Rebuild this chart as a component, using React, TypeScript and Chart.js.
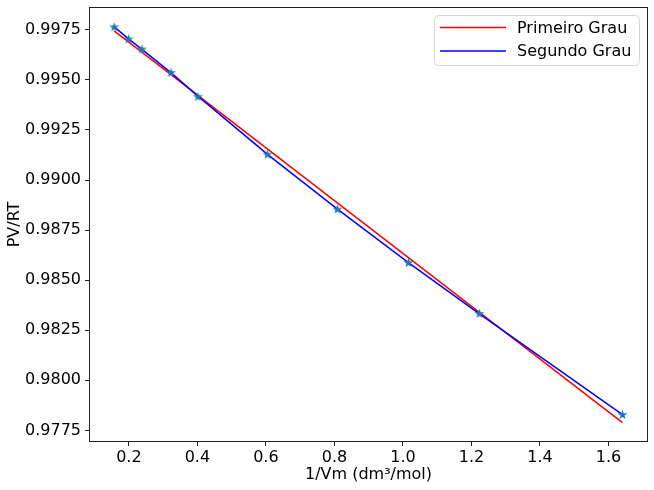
import React, { useEffect, useRef } from "react";
import { Chart, registerables } from "chart.js";

Chart.register(...registerables);

// Measured data (1/Vm vs PV/RT)
const xValues = [0.157, 0.199, 0.238, 0.3226, 0.4014, 0.6046, 0.8089, 1.0161, 1.2233, 1.641];
const pvrtValues = [0.99765, 0.99705, 0.99654, 0.99537, 0.99417, 0.99129, 0.98855, 0.98588, 0.98334, 0.97829];

// First degree fit (straight line endpoints)
const firstDegreeX = [0.157, 1.641];
const firstDegreeY = [0.99745, 0.97789];

// Second degree fit, evaluated at the data x values
const secondDegreeY = [0.99765, 0.99705, 0.99652, 0.99536, 0.99419, 0.99128, 0.98855, 0.98588, 0.98332, 0.97829];

const xTicks = [0.2, 0.4, 0.6, 0.8, 1.0, 1.2, 1.4, 1.6];
const yTicks = [0.9775, 0.98, 0.9825, 0.985, 0.9875, 0.99, 0.9925, 0.995, 0.9975];

const FONT = "'DejaVu Sans', sans-serif";

function makeStar(): HTMLCanvasElement {
  const c = document.createElement("canvas");
  const s = 11;
  c.width = s;
  c.height = s;
  const ctx = c.getContext("2d")!;
  const cx = s / 2;
  const cy = s / 2 + 0.4;
  const R = 5.2;
  const r = 2.1;
  ctx.beginPath();
  for (let i = 0; i < 10; i++) {
    const ang = -Math.PI / 2 + (i * Math.PI) / 5;
    const rad = i % 2 === 0 ? R : r;
    const px = cx + rad * Math.cos(ang);
    const py = cy + rad * Math.sin(ang);
    if (i === 0) ctx.moveTo(px, py);
    else ctx.lineTo(px, py);
  }
  ctx.closePath();
  ctx.fillStyle = "#1f77b4";
  ctx.fill();
  return c;
}

const framePlugin = {
  id: "frameAndLegend",
  afterDraw(chart: any) {
    const { ctx, chartArea } = chart;
    ctx.save();
    ctx.strokeStyle = "#222";
    ctx.lineWidth = 1;
    ctx.strokeRect(
      Math.round(chartArea.left) + 0.5,
      Math.round(chartArea.top) + 0.5,
      Math.round(chartArea.right - chartArea.left) - 1,
      Math.round(chartArea.bottom - chartArea.top) - 1
    );
    // legend
    const items = chart.data.datasets.filter((d: any) => d.label);
    const bx = 434.5, by = 15.5, bw = 205, bh = 50;
    const rr = 4;
    ctx.beginPath();
    ctx.moveTo(bx + rr, by);
    ctx.lineTo(bx + bw - rr, by);
    ctx.quadraticCurveTo(bx + bw, by, bx + bw, by + rr);
    ctx.lineTo(bx + bw, by + bh - rr);
    ctx.quadraticCurveTo(bx + bw, by + bh, bx + bw - rr, by + bh);
    ctx.lineTo(bx + rr, by + bh);
    ctx.quadraticCurveTo(bx, by + bh, bx, by + bh - rr);
    ctx.lineTo(bx, by + rr);
    ctx.quadraticCurveTo(bx, by, bx + rr, by);
    ctx.closePath();
    ctx.fillStyle = "rgba(255,255,255,0.8)";
    ctx.fill();
    ctx.strokeStyle = "#d6d6d6";
    ctx.stroke();
    ctx.font = `16px ${FONT}`;
    ctx.textBaseline = "middle";
    ctx.textAlign = "left";
    items.forEach((d: any, i: number) => {
      const y = 27.5 + i * 23.5;
      ctx.beginPath();
      ctx.strokeStyle = d.borderColor;
      ctx.lineWidth = 1.5;
      ctx.moveTo(440, y);
      ctx.lineTo(506, y);
      ctx.stroke();
      ctx.fillStyle = "#000";
      ctx.fillText(d.label, 517, y + 1);
    });
    ctx.restore();
  },
};

function zeroPad(axis: any) {
  axis.paddingTop = 0;
  axis.paddingBottom = 0;
  axis.paddingLeft = 0;
  axis.paddingRight = 0;
}

export default function App() {
  const ref = useRef<HTMLCanvasElement>(null);
  useEffect(() => {
    document.body.style.margin = "0";
    const star = makeStar();
    const chart = new Chart(ref.current!, {
      type: "scatter",
      data: {
        datasets: [
          {
            label: "Primeiro Grau",
            data: firstDegreeX.map((x, i) => ({ x, y: firstDegreeY[i] })),
            showLine: true,
            borderColor: "#ff0000",
            borderWidth: 1.5,
            pointRadius: 0,
            order: 3,
          },
          {
            label: "Segundo Grau",
            data: xValues.map((x, i) => ({ x, y: secondDegreeY[i] })),
            showLine: true,
            borderColor: "#0000ff",
            borderWidth: 1.5,
            pointRadius: 0,
            order: 2,
          },
          {
            label: "",
            data: xValues.map((x, i) => ({ x, y: pvrtValues[i] })),
            showLine: false,
            pointStyle: star as any,
            pointRadius: 5,
            order: 1,
          },
        ],
      },
      options: {
        animation: false,
        responsive: false,
        maintainAspectRatio: false,
        layout: { padding: { top: 7, right: 6, left: 0, bottom: 0 } },
        plugins: {
          legend: { display: false },
          tooltip: { enabled: false },
        },
        scales: {
          x: {
            type: "linear",
            min: 0.0835,
            max: 1.7155,
            afterBuildTicks: (axis: any) => {
              axis.ticks = xTicks.map((v) => ({ value: v }));
            },
            afterFit: (axis: any) => {
              axis.height = 48;
              zeroPad(axis);
            },
            ticks: {
              callback: (v: any) => Number(v).toFixed(1),
              font: { family: FONT, size: 16 },
              color: "#000",
              padding: 2,
              maxRotation: 0,
              autoSkip: false,
            },
            grid: {
              display: true,
              drawOnChartArea: false,
              drawTicks: true,
              tickLength: 4,
              color: "#222",
            },
            border: { display: false },
            title: {
              display: true,
              text: "1/Vm (dm³/mol)",
              font: { family: FONT, size: 16 },
              color: "#000",
              padding: { top: 0, bottom: 6 },
            },
          },
          y: {
            type: "linear",
            min: 0.97692,
            max: 0.99864,
            afterBuildTicks: (axis: any) => {
              axis.ticks = yTicks.map((v) => ({ value: v }));
            },
            afterFit: (axis: any) => {
              axis.width = 89;
              zeroPad(axis);
            },
            ticks: {
              callback: (v: any) => Number(v).toFixed(4),
              font: { family: FONT, size: 16 },
              color: "#000",
              padding: 4,
              autoSkip: false,
            },
            grid: {
              display: true,
              drawOnChartArea: false,
              drawTicks: true,
              tickLength: 4,
              color: "#222",
            },
            border: { display: false },
            title: {
              display: true,
              text: "PV/RT",
              font: { family: FONT, size: 16 },
              color: "#000",
              padding: { top: 5, bottom: 0 },
            },
          },
        },
      },
      plugins: [framePlugin],
    });
    return () => chart.destroy();
  }, []);
  return (
    <div style={{ position: "absolute", left: 0, top: 0, width: 654, height: 490 }}>
      <canvas ref={ref} width={654} height={490} style={{ width: 654, height: 490 }} />
    </div>
  );
}
